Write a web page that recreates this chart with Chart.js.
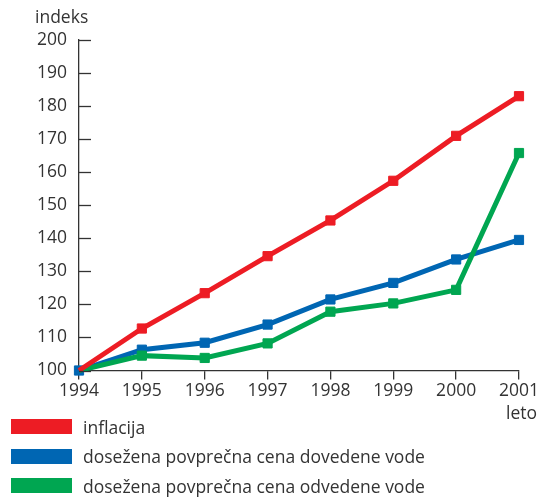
<!DOCTYPE html>
<html>
<head>
<meta charset="utf-8">
<script src="https://cdn.jsdelivr.net/npm/chart.js@4.4.1/dist/chart.umd.min.js"></script>
<style>
  html, body { margin: 0; padding: 0; background: #fff; }
  #wrap { position: relative; width: 540px; height: 500px; font-family: "Open Sans", sans-serif; color: #333; }
  #chart-wrap { position: absolute; left: 0; top: 0; width: 540px; height: 430px; }
  .legend { position: absolute; left: 11px; top: 412px; }
  .legend .row { height: 29.5px; display: flex; align-items: center; font-size: 17.5px; }
  .legend .box { width: 61px; height: 15px; margin-right: 11px; }
</style>
</head>
<body>
<div id="wrap">
  <div id="chart-wrap"><canvas id="chart"></canvas></div>
  <div class="legend" id="legend"></div>
</div>
<script>
// kategorije in vrednosti (indeks, 1994 = 100)
const years = ['1994', '1995', '1996', '1997', '1998', '1999', '2000', '2001'];
const inflacija = [100, 112.7, 123.4, 134.6, 145.4, 157.4, 171, 183];
const dovedenaVoda = [100, 106.3, 108.4, 113.9, 121.5, 126.5, 133.6, 139.5];
const odvedenaVoda = [100, 104.5, 103.8, 108.2, 117.8, 120.3, 124.4, 165.8];
const yTicks = [100, 110, 120, 130, 140, 150, 160, 170, 180, 190, 200];

const seriesNames = [
  'inflacija',
  'dosežena povprečna cena dovedene vode',
  'dosežena povprečna cena odvedene vode',
];
const colors = ['#ED1C24', '#0066B3', '#00A651'];
const textColor = '#333333';
const font = '"Open Sans", sans-serif';

// notranje oznake na osi y in napisi osi
const axisExtras = {
  id: 'axisExtras',
  afterDraw(chart) {
    const ctx = chart.ctx;
    const y = chart.scales.y;
    const x = chart.scales.x;
    ctx.save();
    ctx.strokeStyle = textColor;
    ctx.lineWidth = 1.3;
    yTicks.forEach(v => {
      const py = Math.round(y.getPixelForValue(v)) + 0.5;
      ctx.beginPath();
      ctx.moveTo(x.left, py);
      ctx.lineTo(x.left + 12, py);
      ctx.stroke();
    });
    ctx.fillStyle = textColor;
    ctx.font = '17.5px ' + font;
    ctx.textBaseline = 'alphabetic';
    ctx.textAlign = 'left';
    ctx.fillText('indeks', 35, 23);
    ctx.textAlign = 'right';
    ctx.fillText('leto', 537, 419);
    ctx.restore();
  },
};

const pointR = 6.5;
const ctx = document.getElementById('chart').getContext('2d');
new Chart(ctx, {
  type: 'line',
  data: {
    labels: years,
    datasets: [
      {
        label: seriesNames[0],
        data: inflacija,
        borderColor: colors[0],
        backgroundColor: colors[0],
        pointRadius: c => (c.dataIndex === 0 ? 0 : pointR),
      },
      {
        label: seriesNames[2],
        data: odvedenaVoda,
        borderColor: colors[2],
        backgroundColor: colors[2],
        pointRadius: c => (c.dataIndex === 0 ? 0 : pointR),
      },
      {
        label: seriesNames[1],
        data: dovedenaVoda,
        borderColor: colors[1],
        backgroundColor: colors[1],
        pointRadius: pointR,
      },
    ].map(d => Object.assign(d, {
      borderWidth: 5,
      pointStyle: 'rect',
      pointBorderWidth: 1,
      pointHoverRadius: pointR,
      tension: 0,
      clip: false,
    })),
  },
  options: {
    responsive: true,
    maintainAspectRatio: false,
    animation: false,
    layout: { padding: { left: 0, right: 21, top: 40, bottom: 0 } },
    plugins: {
      legend: { display: false },
      tooltip: { enabled: false },
    },
    scales: {
      x: {
        type: 'category',
        offset: false,
        grid: {
          drawOnChartArea: false,
          drawTicks: true,
          tickLength: 9,
          color: textColor,
          lineWidth: 1.3,
        },
        border: { display: true, color: textColor, width: 1.3 },
        ticks: {
          color: textColor,
          font: { family: font, size: 17.5 },
          padding: 1,
          maxRotation: 0,
          autoSkip: false,
        },
        afterFit(scale) { scale.height = 430 - 370.5; },
      },
      y: {
        min: 100,
        max: 200,
        afterBuildTicks(scale) { scale.ticks = yTicks.map(v => ({ value: v })); },
        grid: { drawOnChartArea: false, drawTicks: false },
        border: { display: true, color: textColor, width: 1.3 },
        ticks: {
          color: textColor,
          font: { family: font, size: 17.5 },
          padding: 12,
        },
        afterFit(scale) { scale.width = 79; },
      },
    },
  },
  plugins: [axisExtras],
});

// legenda
const legend = document.getElementById('legend');
seriesNames.forEach((name, i) => {
  const row = document.createElement('div');
  row.className = 'row';
  row.innerHTML = `<span class="box" style="background:${colors[i]}"></span><span>${name}</span>`;
  legend.appendChild(row);
});
</script>
</body>
</html>
